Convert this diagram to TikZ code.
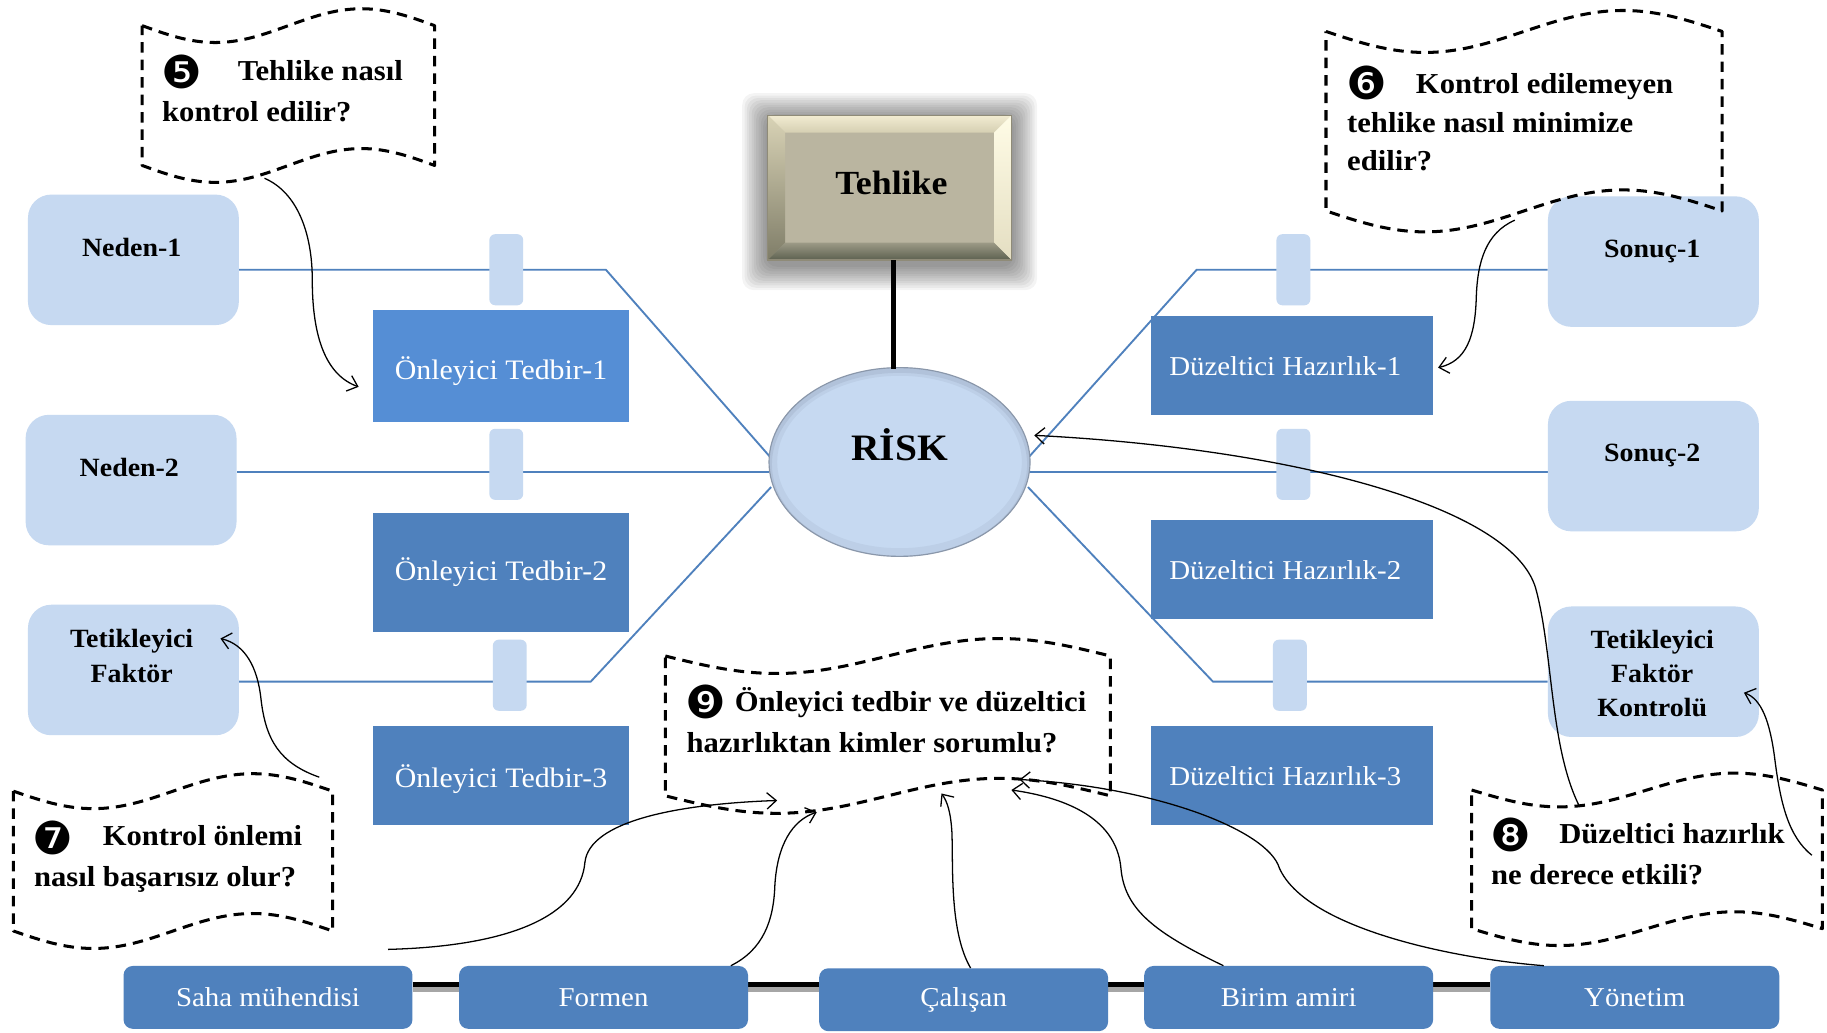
\documentclass[tikz,border=0pt]{standalone}
\usepackage{fontspec}
\setmainfont{Liberation Serif}[FakeStretch=1.06]
\newfontfamily\digfont{DejaVu Sans}
\usetikzlibrary{arrows.meta,calc,backgrounds,shapes.geometric}

\definecolor{lightbox}{HTML}{C6D9F1}
\definecolor{midblue}{HTML}{4F81BD}
\definecolor{brightblue}{HTML}{558ED5}
\definecolor{lineblue}{HTML}{4F81BD}
\definecolor{tanface}{HTML}{BAB5A0}
\definecolor{tanedge}{HTML}{8F8B78}
\definecolor{bevtopA}{HTML}{F2ECD2}
\definecolor{bevtopB}{HTML}{D5CFB2}
\definecolor{bevbotA}{HTML}{9C9A86}
\definecolor{bevbotB}{HTML}{5C604F}
\definecolor{bevleftA}{HTML}{D9D3B6}
\definecolor{bevleftB}{HTML}{7F7D68}
\definecolor{bevrightA}{HTML}{FFFCE6}
\definecolor{bevrightB}{HTML}{E4DEC2}
\definecolor{riskedge}{HTML}{7D8BA0}

\newcommand\mybold{\fontsize{22.6}{29.5}\selectfont\bfseries}
\newcommand\myreg{\fontsize{23.4}{28}\selectfont}
\newcommand\myregb{\fontsize{24.2}{28}\selectfont}
\newcommand\mycall{\fontsize{24.8}{35}\selectfont\bfseries}
\newcommand\mydig{\fontsize{39}{39}\selectfont\digfont}

\newcommand\wavecallout[5]{%
  \pgfmathsetmacro\wqa{#1+(#2-#1)/4}%
  \pgfmathsetmacro\wqb{#1+(#2-#1)/2}%
  \pgfmathsetmacro\wqc{#1+3*(#2-#1)/4}%
  \draw[tape] (#1,#3) sin (\wqa,#3+#5) cos (\wqb,#3) sin (\wqc,#3-#5) cos (#2,#3)
    -- (#2,#4) sin (\wqc,#4-#5) cos (\wqb,#4) sin (\wqa,#4+#5) cos (#1,#4) -- cycle;}

\begin{document}
\begin{tikzpicture}[x=1pt,y=-1pt,
  lbox/.style={fill=lightbox, rounded corners=20pt, minimum width=181pt, minimum height=112pt, inner sep=0pt},
  tabbox/.style={fill=lightbox, rounded corners=5pt, minimum width=29pt, minimum height=61pt, inner sep=0pt},
  tedbir/.style={fill=midblue, minimum width=220pt, inner sep=0pt, text=white, font=\myregb, text height=22pt, text depth=7pt},
  duz/.style={fill=midblue, minimum width=242pt, minimum height=85pt, inner sep=0pt, text=white, font=\myreg, text height=24pt, text depth=7pt},
  actor/.style={fill=midblue, rounded corners=8pt, minimum width=248pt, minimum height=54pt, inner sep=0pt, text=white, font=\myreg},
  btxt/.style={font=\mybold, align=center, inner sep=0pt},
  ctxt/.style={font=\mycall, inner sep=0pt, anchor=base west},
  dig/.style={font=\mydig, inner sep=0pt},
  bl/.style={draw=lineblue, line width=1.6pt},
  arr/.style={draw=black, line width=1.1pt, -{Straight Barb[length=8pt,width=14pt]}},
  tape/.style={draw=black, line width=2.6pt, dash pattern=on 9pt off 6pt, line join=round}]

\begin{scope}[on background layer]
  \fill[white] (0,0) rectangle (1568,886);
\end{scope}
\useasboundingbox (0,0) rectangle (1568,886);

% light boxes
\node[lbox] (n1) at (114.5,223) {};
\node[lbox] (n2) at (112.5,412) {};
\node[lbox] (tf) at (114.5,575) {};
\node[lbox] (s1) at (1419,224.5) {};
\node[lbox] (s2) at (1419,400) {};
\node[lbox] (tfk) at (1419,576.5) {};
\node[btxt] (n1t) at (113,212) {Neden-1};
\node[btxt] (n2t) at (111,401) {Neden-2};
\node[btxt] (tft) at (113,563) {Tetikleyici\\Faktör};
\node[btxt] (s1t) at (1418,216) {Sonuç-1};
\node[btxt] (s2t) at (1418,391) {Sonuç-2};
\node[btxt] (tfkt) at (1418,578) {Tetikleyici\\Faktör\\Kontrolü};

% tabs
\node[tabbox] (tl1) at (434.5,231.5) {};
\node[tabbox] (tl2) at (434.5,398.5) {};
\node[tabbox] (tl3) at (437.5,579.5) {};
\node[tabbox] (tr1) at (1110,231.5) {};
\node[tabbox] (tr2) at (1110,398.5) {};
\node[tabbox] (tr3) at (1107,579.5) {};

% measures
\node[tedbir, fill=brightblue, minimum height=96pt, text height=30pt] (ot1) at (430,314) {Önleyici Tedbir-1};
\node[tedbir, minimum height=102pt] (ot2) at (430,491) {Önleyici Tedbir-2};
\node[tedbir, minimum height=85pt, text height=27pt] (ot3) at (430,665.5) {Önleyici Tedbir-3};
\node[duz] (dh1) at (1109,313.5) {Düzeltici Hazırlık-1\rule{12pt}{0pt}};
\node[duz] (dh2) at (1109,488.5) {Düzeltici Hazırlık-2\rule{12pt}{0pt}};
\node[duz] (dh3) at (1109,665.5) {Düzeltici Hazırlık-3\rule{12pt}{0pt}};

% actors
\node[actor] (saha) at (230,856) {Saha mühendisi};
\node[actor] (formen) at (518,856) {Formen};
\node[actor] (calisan) at (827,858) {Çalışan};
\node[actor] (birim) at (1106,856) {Birim amiri};
\node[actor] (yonetim) at (1403,856) {Yönetim};

% Tehlike box with shadow and bevel
\foreach \k in {1,...,11}
  \fill[black, opacity=0.045, rounded corners=10pt] ({659-2*\k},{99-2*\k+3}) rectangle ({868+2*\k},{223+2*\k+4});
\node[fill=tanface, minimum width=209pt, minimum height=124pt, inner sep=0pt] (tehlike) at (763.5,161) {};
\shade[top color=bevtopA, bottom color=bevtopB] (tehlike.north west) -- (tehlike.north east) -- ($(tehlike.north east)+(-15,15)$) -- ($(tehlike.north west)+(15,15)$) -- cycle;
\shade[top color=bevbotA, bottom color=bevbotB] (tehlike.south west) -- (tehlike.south east) -- ($(tehlike.south east)+(-15,-15)$) -- ($(tehlike.south west)+(15,-15)$) -- cycle;
\shade[top color=bevleftA, bottom color=bevleftB] (tehlike.north west) -- ($(tehlike.north west)+(15,15)$) -- ($(tehlike.south west)+(15,-15)$) -- (tehlike.south west) -- cycle;
\shade[top color=bevrightA, bottom color=bevrightB] (tehlike.north east) -- ($(tehlike.north east)+(-15,15)$) -- ($(tehlike.south east)+(-15,-15)$) -- (tehlike.south east) -- cycle;
\draw[tanedge, line width=1pt] (tehlike.north west) rectangle (tehlike.south east);
\node[font=\fontsize{29}{29}\selectfont\bfseries, inner sep=0pt] (tehliket) at (765,157) {Tehlike};

% RISK ellipse
\node[ellipse, fill=lightbox, minimum width=224pt, minimum height=162pt, inner sep=0pt] (risk) at (772,396.5) {};
\begin{scope}
  \clip (risk.center) ellipse [x radius=112pt, y radius=81pt];
  \draw[riskedge, line width=14pt, opacity=0.12] (risk.center) ellipse [x radius=112pt, y radius=81pt];
  \draw[riskedge, line width=5pt, opacity=0.18] ([yshift=-2pt]risk.center) ellipse [x radius=112pt, y radius=81pt];
\end{scope}
\draw[riskedge!90, line width=1pt] (risk.center) ellipse [x radius=112pt, y radius=81pt];
\node[font=\fontsize{32}{32}\selectfont\bfseries, anchor=base, inner sep=0pt] (riskt) at (772,395) {RİSK};

\draw[line width=4.5pt] ($(tehlike.south)+(3.5,0)$) -- ($(risk.north)+(-5,1)$);

% fishbone lines (behind tabs)
\coordinate (rwm) at ($(risk.west)+(0,8.5)$);
\coordinate (lb) at (507,585);
\coordinate (rem) at ($(risk.east)+(0,8.5)$);
\coordinate (rb) at (1041,585);
\begin{scope}[on background layer]
  \draw[bl] (n1.east |- tl1.center) -- ($(tl1.center)+(85.5,0)$) -- ($(risk.west)+(1,-4.5)$);
  \draw[bl] (rwm) -- (rwm -| n2.east);
  \draw[bl] ($(risk.west)+(2,21.5)$) -- (lb) -- (lb -| tf.east);
  \draw[bl] ($(risk.east)+(-1,-4.5)$) -- ($(tr1.center)+(-83,0)$) -- (tr1.center -| s1.west);
  \draw[bl] (rem) -- (rem -| s2.west);
  \draw[bl] ($(risk.east)+(-2,21.5)$) -- (rb) -- (rb -| tfk.west);
  \coordinate (bk) at ($(saha.east)+(0,-11)$);
  \draw[black!35, line width=4pt] ($(bk)+(0,4)$) -- ($(bk -| yonetim.west)+(0,4)$);
  \draw[black, line width=4.5pt] (bk) -- (bk -| yonetim.west);
\end{scope}

% callouts
\wavecallout{122}{373}{22}{142}{14.5}
\wavecallout{1138}{1478}{27}{181}{18}
\wavecallout{11.5}{285.5}{679}{799}{15}
\wavecallout{1263}{1564}{678}{797}{14.5}
\wavecallout{571}{953}{563}{683}{15}

\node[dig] (d5) at (156,62) {❺};
\node[ctxt] (c5a) at (204,69) {Tehlike nasıl};
\node[ctxt] (c5b) at (139,104.5) {kontrol edilir?};

\node[dig] (d6) at (1173,71.5) {❻};
\node[ctxt] (c6a) at (1215,80) {Kontrol edilemeyen};
\node[ctxt] (c6b) at (1156,114) {tehlike nasıl minimize};
\node[ctxt] (c6c) at (1156,146) {edilir?};

\node[dig] (d7) at (45.5,719) {❼};
\node[ctxt] (c7a) at (88,726) {Kontrol önlemi};
\node[ctxt] (c7b) at (29,761) {nasıl başarısız olur?};

\node[dig] (d8) at (1296.5,716.5) {❽};
\node[ctxt] (c8a) at (1338,724) {Düzeltici hazırlık};
\node[ctxt] (c8b) at (1279.5,759.5) {ne derece etkili?};

\node[dig] (d9) at (605.5,602) {❾};
\node[ctxt] (c9t1) at (630.5,611) {Önleyici tedbir ve düzeltici};
\node[ctxt] (c9t2) at (589,645.5) {hazırlıktan kimler sorumlu?};

% callout anchor points
\coordinate (c5out) at (227,153);
\coordinate (c6out) at (1300,189);
\coordinate (c7out) at (274,667);
\coordinate (c8outa) at (1355,691);
\coordinate (c8outb) at (1555,734);
\coordinate (c9a) at (667,687);
\coordinate (c9b) at (701,697);
\coordinate (c9c) at (808,681);
\coordinate (c9d) at (868,678);
\coordinate (c9e) at (875,669);

% curved arrows
\draw[arr] (c5out) .. controls (255,165) and (268,200) .. (268,240) .. controls (268,290) and (280,322) .. ($(ot1.west)+(-12,18)$);
\draw[arr] (c6out) .. controls (1275,200) and (1268,225) .. (1267,255) .. controls (1266,290) and (1258,310) .. ($(dh1.east)+(4,2)$);
\draw[arr] (c7out) .. controls (240,655) and (228,635) .. (224,600) .. controls (221,572) and (210,553) .. ($(tf.east)+(-16,-27)$);
\draw[arr] (c8outa) .. controls (1330,640) and (1333,560) .. (1318,505) .. controls (1298,435) and (1110,385) .. ($(risk.12)+(8,0)$);
\draw[arr] (c8outb) .. controls (1535,718) and (1528,690) .. (1523,650) .. controls (1519,620) and (1512,600) .. ($(tfk.east)+(-13,18)$);

\draw[arr] ($(saha.north)+(103,-14)$) .. controls (440,812) and (498,785) .. (502,740) .. controls (506,705) and (580,690) .. (c9a);
\draw[arr] ($(formen.north east)+(-15,0)$) .. controls (655,815) and (664,790) .. (665,760) .. controls (667,725) and (680,704) .. (c9b);
\draw[arr] ($(calisan.north)+(6,0)$) .. controls (815,800) and (818,745) .. (817,715) .. controls (816,697) and (813,688) .. (c9c);
\draw[arr] ($(birim.north)+(-56,0)$) .. controls (990,800) and (965,780) .. (962,745) .. controls (958,700) and (910,684) .. (c9d);
\draw[arr] ($(yonetim.north)+(-78,0)$) .. controls (1240,822) and (1120,795) .. (1098,745) .. controls (1088,712) and (990,675) .. (c9e);

\end{tikzpicture}
\end{document}
